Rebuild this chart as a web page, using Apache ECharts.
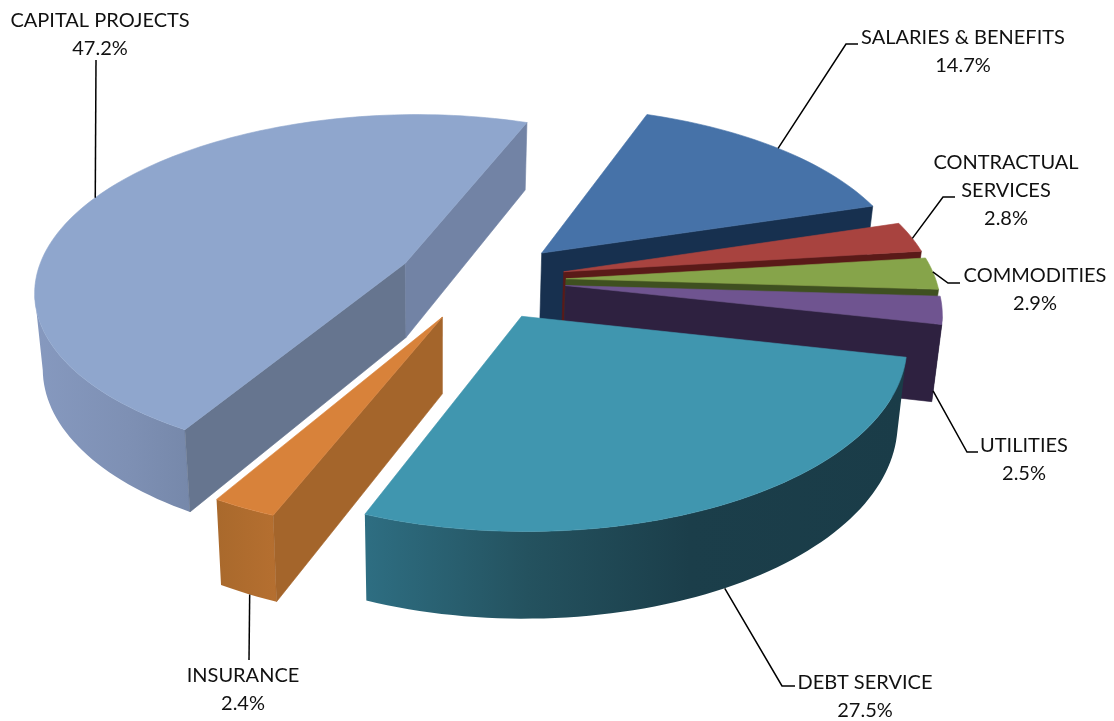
<!DOCTYPE html>
<html>
<head>
<meta charset="utf-8">
<style>html,body{margin:0;padding:0;background:#fff}#c{width:1114px;height:721px}</style>
<script src="https://cdn.jsdelivr.net/npm/echarts@6/dist/echarts.min.js"></script>
</head>
<body>
<div id="c"></div>
<script>
// ---- data (clockwise from the first slice) ----
const categories = ['SALARIES & BENEFITS', 'CONTRACTUAL SERVICES', 'COMMODITIES', 'UTILITIES', 'DEBT SERVICE', 'INSURANCE', 'CAPITAL PROJECTS'];
const values = [14.7, 2.8, 2.9, 2.5, 27.5, 2.4, 47.2];

// ---- drawing parameters ----
const firstSliceAngle = 20, explode = 85;
const view = {cx: 481, cy: 280, R: 370, tilt: 0.47, persp: 0.14, shear: 0.007, wall: 75, wallPersp: 60, vanishX: 440, converge: 0.02};
const paintOrder = [0, 1, 2, 3, 6, 5, 4];
const topColors = ['#4672A8', '#A8433F', '#86A44A', '#6F5490', '#4096AF', '#D8823A', '#8FA6CD'];
const startCutColors = ['#17304F', '#5A1A18', '#3F5020', '#2E2140', '#1A3C49', '#A4652B', '#66758F'];
const endCutColors = ['#17304F', '#5A1A18', '#3F5020', '#2E2140', '#1A3C49', '#A4652B', '#7283A5'];
const wallStops = [
  [[0, '#17304F'], [1, '#17304F']], [[0, '#5A1A18'], [1, '#5A1A18']], [[0, '#3F5020'], [1, '#3F5020']], [[0, '#2E2140'], [1, '#2E2140']],
  [[0, '#2E6E82'], [0.3, '#24525F'], [0.6, '#1B3E4A'], [1, '#1A3C48']],
  [[0, '#A9692C'], [1, '#B56F30']],
  [[0, '#8699BF'], [0.6, '#7E90B4'], [1, '#7688AA']]
];
// anchor: fraction along the slice's arc, and 0 = top / 1 = bottom edge of the wall
const leaderAnchor = [[0.5, 0], [0.55, 0], [0.45, 0], [0.9, 0.9], [0.5, 1], [0.47, 1], [0.495, 0]];
const leaderPoints = [
  [[846, 44], [858, 44]], [[943, 197], [955, 197]], [[948, 283], [960, 283]], [[967, 452], [978, 452]],
  [[782, 686], [795, 686]], [[249, 660]], [[96, 60]]
];
const labelLines = [
  ['SALARIES & BENEFITS'], ['CONTRACTUAL', 'SERVICES'], ['COMMODITIES'], ['UTILITIES'],
  ['DEBT SERVICE'], ['INSURANCE'], ['CAPITAL PROJECTS']
];
const labelCenter = [[963, 38], [1006, 163], [1035, 276], [1024, 446], [865, 683], [243, 676], [100, 21]];
const labelLeading = 28, fontPx = 20;

const total = values.reduce((a, b) => a + b, 0);
let acc = firstSliceAngle;
const spans = values.map(v => { const s = acc, e = acc + v / total * 360; acc = e; return [s, e]; });

function project(X, Y, z) {
  const s = 1 / (1 + view.persp * Y / view.R);
  const x = view.cx + X * s + view.shear * Y, y = view.cy - Y * view.tilt * s;
  return [x - (x - view.vanishX) * view.converge * z, y + z * (view.wall + view.wallPersp * (s - 1))];
}
const rad = d => d * Math.PI / 180;
function slicePoint(i, ang, r, z) {
  const m = rad((spans[i][0] + spans[i][1]) / 2);
  const ox = explode * Math.sin(m), oy = explode * Math.cos(m);
  return project(ox + r * Math.sin(rad(ang)), oy + r * Math.cos(rad(ang)), z);
}
function poly(points, fill, z2) {
  return {type: 'polygon', shape: {points}, z2,
    style: {fill, stroke: typeof fill === 'string' ? fill : null, lineWidth: typeof fill === 'string' ? 0.6 : 0}};
}
function renderSlice(params, api) {
  const i = params.dataIndex;
  const v = api.value(0);
  const a0 = spans[i][0], a1 = a0 + v / total * 360;
  const rank = paintOrder.indexOf(i) * 10 + 1;
  const n = Math.max(6, Math.round((a1 - a0) / 1.5));
  const topArc = [], botArc = [];
  for (let k = 0; k <= n; k++) {
    const a = a0 + (a1 - a0) * k / n;
    topArc.push(slicePoint(i, a, view.R, 0));
    botArc.push(slicePoint(i, a, view.R, 1));
  }
  const apexT = slicePoint(i, 0, 0, 0), apexB = slicePoint(i, 0, 0, 1);
  const children = [];
  // outer wall: only stretches running right-to-left face the viewer
  let run = [];
  const flush = () => {
    if (run.length > 1) {
      const t = run.map(k => topArc[k]), b = run.map(k => botArc[k]).reverse();
      const g = new echarts.graphic.LinearGradient(0, 0, 1, 0,
        wallStops[i].map(s => ({offset: s[0], color: s[1]})));
      children.push(poly(t.concat(b), g, rank));
    }
    run = [];
  };
  for (let k = 0; k < n; k++) {
    if (topArc[k + 1][0] < topArc[k][0]) { if (!run.length) run.push(k); run.push(k + 1); }
    else flush();
  }
  flush();
  // cut faces
  if (topArc[0][0] < apexT[0]) children.push(poly([apexT, topArc[0], botArc[0], apexB], startCutColors[i], rank + 1));
  if (apexT[0] < topArc[n][0]) children.push(poly([topArc[n], apexT, apexB, botArc[n]], endCutColors[i], rank + 1));
  // top face
  children.push(poly([apexT].concat(topArc), topColors[i], rank + 2));
  // leader line
  const an = leaderAnchor[i];
  const start = slicePoint(i, a0 + (a1 - a0) * an[0], view.R, an[1]);
  children.push({type: 'polyline', z2: 1000, shape: {points: [start].concat(leaderPoints[i])},
    style: {fill: null, stroke: '#000', lineWidth: 1.5}});
  // text
  const lines = labelLines[i].concat([v.toFixed(1) + '%']);
  lines.forEach((txt, j) => children.push({type: 'text', z2: 1001,
    x: labelCenter[i][0], y: labelCenter[i][1] + j * labelLeading,
    style: {text: txt, fill: '#111', font: fontPx + 'px Lato, Carlito, sans-serif', align: 'center', verticalAlign: 'middle'}}));
  return {type: 'group', children};
}
const chart = echarts.init(document.getElementById('c'), null, {renderer: 'canvas'});
chart.setOption({
  animation: false,
  backgroundColor: '#fff',
  series: [{
    type: 'custom',
    coordinateSystem: 'none',
    silent: true,
    clip: false,
    renderItem: renderSlice,
    data: values.map((v, i) => ({name: categories[i], value: [v]}))
  }]
});
</script>
</body>
</html>
